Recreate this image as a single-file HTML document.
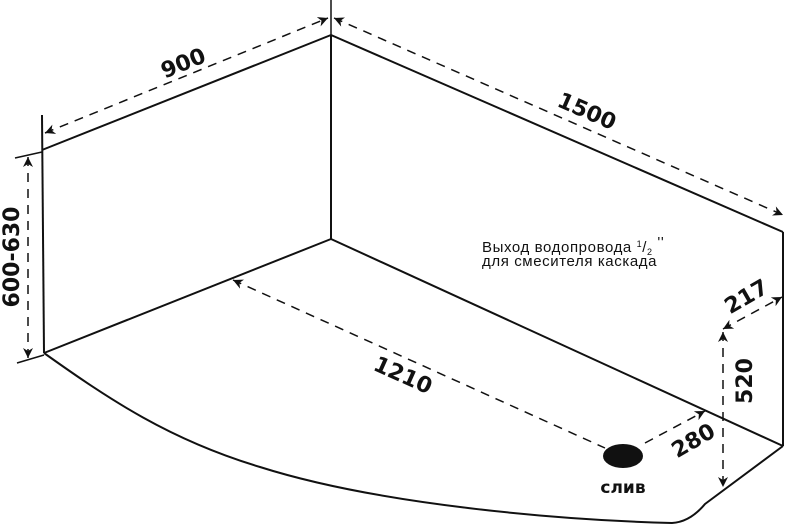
<!DOCTYPE html>
<html><head><meta charset="utf-8"><style>
html,body{margin:0;padding:0;background:#fff;}
svg{display:block}
text{font-family:"Liberation Sans","DejaVu Sans",sans-serif;fill:#111}
.b{font-family:"DejaVu Sans","Liberation Sans",sans-serif;font-weight:bold;font-size:22px}
</style></head><body>
<svg width="788" height="528" viewBox="0 0 788 528" xmlns="http://www.w3.org/2000/svg">
<defs>
<marker id="a" viewBox="0 0 10 10" refX="10" refY="5" markerWidth="10" markerHeight="10" orient="auto-start-reverse" markerUnits="userSpaceOnUse">
<path d="M0,0 L10,5 L0,10 L3,5 Z" fill="#111"/></marker>
</defs>
<g stroke="#111" stroke-width="2" fill="none" stroke-linejoin="round">
<line x1="331" y1="35" x2="331" y2="239"/>
<line x1="331" y1="0" x2="331" y2="35" stroke-width="1.5"/>
<line x1="42" y1="115" x2="44" y2="353"/>
<line x1="42" y1="150" x2="331" y2="35"/>
<line x1="331" y1="35" x2="783" y2="232"/>
<line x1="783" y1="232" x2="783" y2="446"/>
<line x1="331" y1="239" x2="783" y2="446"/>
<line x1="331" y1="239" x2="44" y2="353"/>
<path d="M44,353 C110,400 170,440 260,467 C380,505 560,520 672,523 Q690,522 705,504 L783,446"/>
<line x1="15" y1="158" x2="42" y2="152" stroke-width="1.5"/>
<line x1="17" y1="363" x2="44" y2="355" stroke-width="1.5"/>
</g>
<g stroke="#111" stroke-width="1.5" fill="none" stroke-dasharray="9,7">
<line x1="45" y1="133" x2="328" y2="18" marker-start="url(#a)" marker-end="url(#a)"/>
<line x1="334" y1="18" x2="783" y2="215" marker-start="url(#a)" marker-end="url(#a)"/>
<line x1="28" y1="157" x2="28" y2="358" marker-start="url(#a)" marker-end="url(#a)"/>
<line x1="233" y1="280" x2="605" y2="448" marker-start="url(#a)"/>
<line x1="645" y1="443" x2="705" y2="411" marker-end="url(#a)"/>
<line x1="723" y1="332" x2="723" y2="487" marker-start="url(#a)" marker-end="url(#a)"/>
<line x1="723" y1="329" x2="782" y2="297" marker-start="url(#a)" marker-end="url(#a)"/>
</g>
<ellipse cx="623" cy="456" rx="20" ry="12" fill="#111"/>
<text class="b" transform="translate(186,70) rotate(-22)" text-anchor="middle">900</text>
<text class="b" transform="translate(584,118) rotate(23.5)" text-anchor="middle">1500</text>
<text class="b" transform="translate(19,257) rotate(-90)" text-anchor="middle">600-630</text>
<text class="b" transform="translate(400,382) rotate(24)" text-anchor="middle">1210</text>
<text class="b" transform="translate(697,447) rotate(-30)" text-anchor="middle">280</text>
<text class="b" transform="translate(752,381) rotate(-90)" text-anchor="middle">520</text>
<text class="b" transform="translate(750,303) rotate(-30)" text-anchor="middle">217</text>
<text class="b" x="623" y="493" text-anchor="middle" style="font-size:17px">слив</text>
<text x="482" y="252" style="font-size:15px;letter-spacing:0.6px">Выход водопровода <tspan style="font-size:9px" dy="-5">1</tspan><tspan dy="5">/</tspan><tspan style="font-size:9px" dy="3">2</tspan><tspan dy="-8"> ''</tspan></text>
<text x="482" y="266" style="font-size:15px;letter-spacing:0.6px">для смесителя каскада</text>
</svg>
</body></html>
